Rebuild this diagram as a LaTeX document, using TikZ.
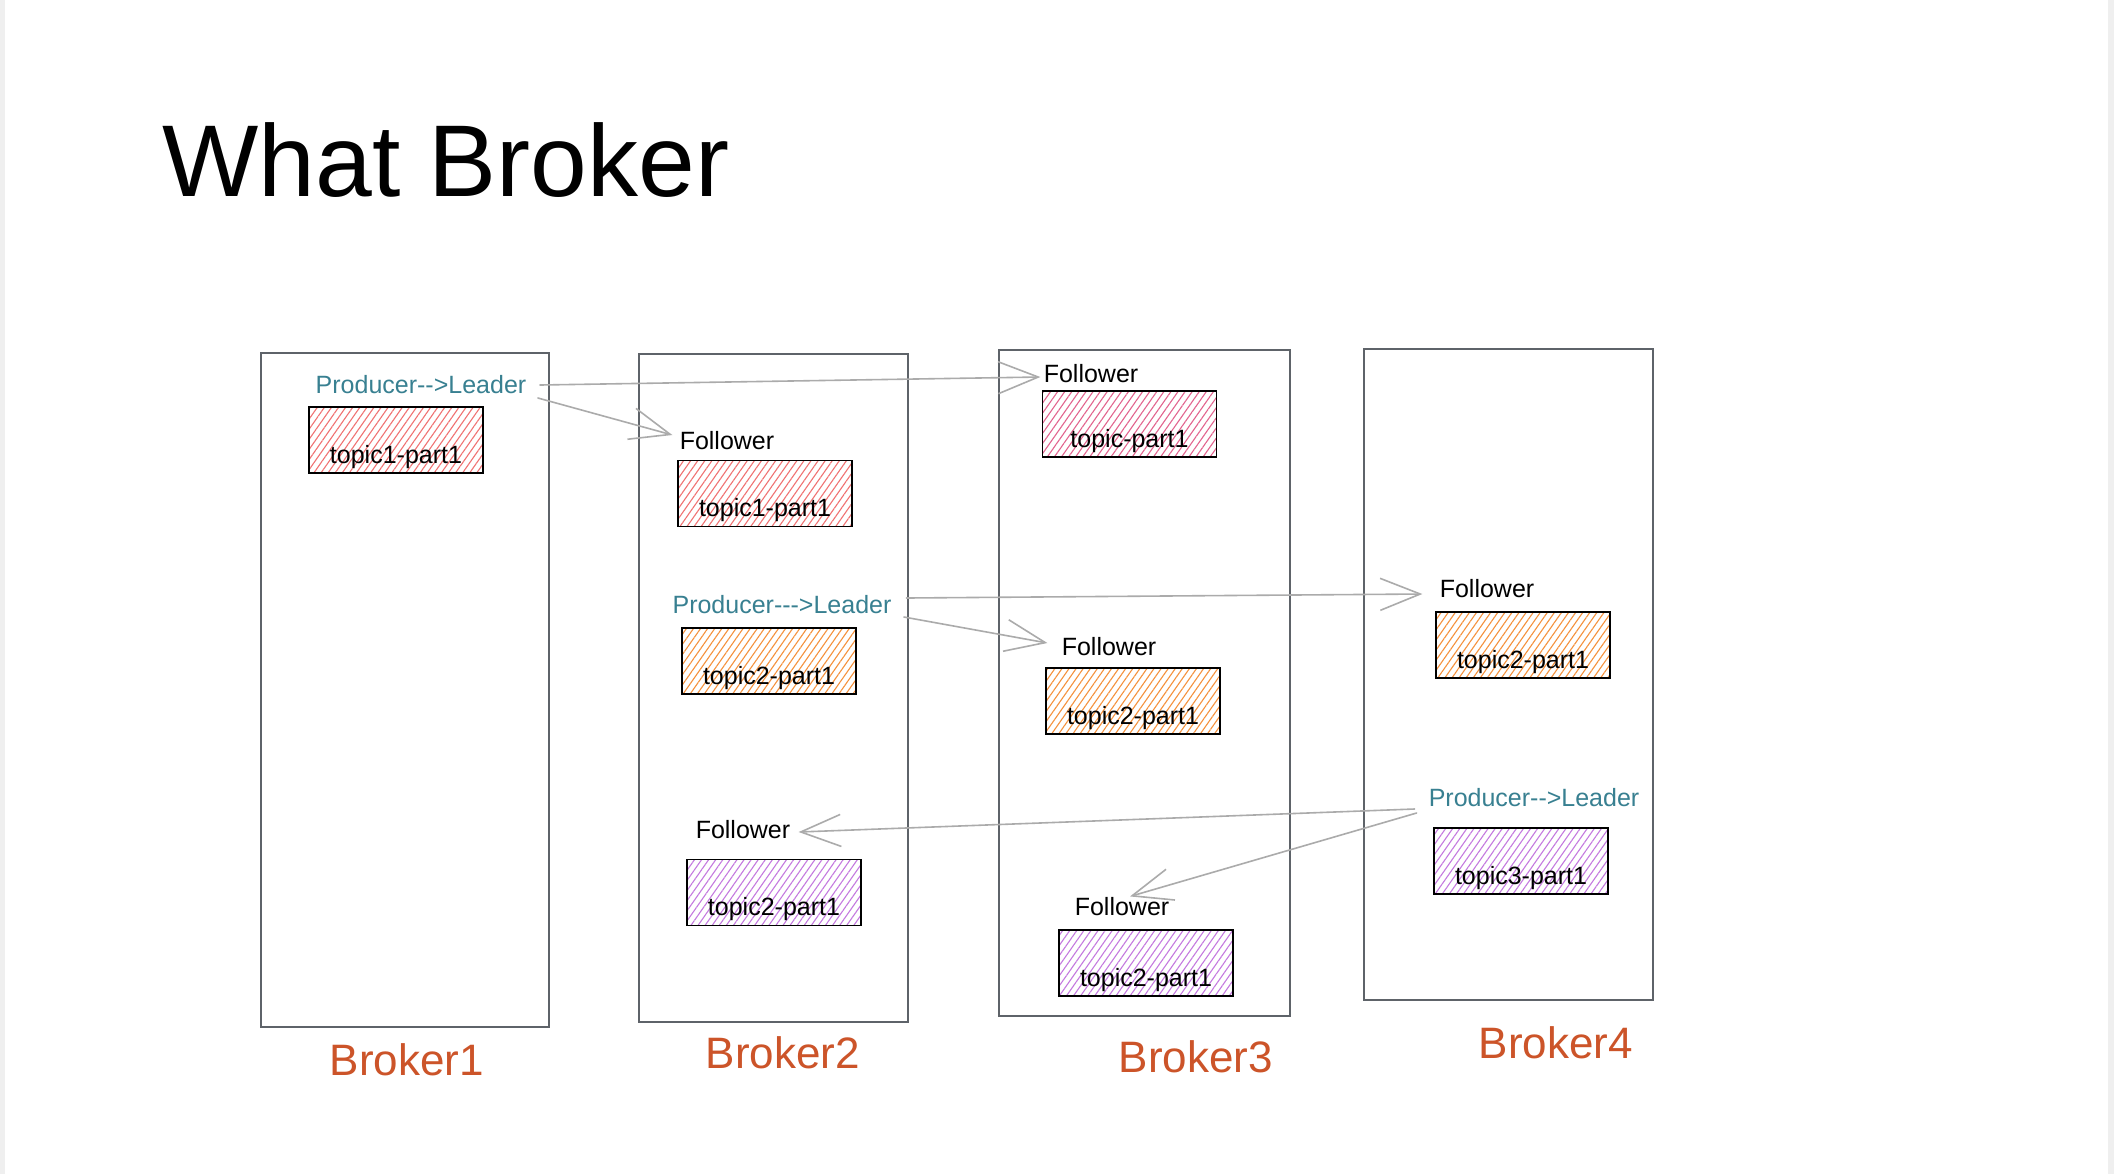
\documentclass[tikz,border=0pt]{standalone}
\usepackage{fontspec}
\setmainfont{Liberation Sans}[Ligatures=TeXOff]
\usetikzlibrary{patterns.meta,arrows.meta}
\definecolor{prodcol}{HTML}{388091}
\definecolor{brokercol}{HTML}{CC5429}
\definecolor{framegray}{HTML}{5E6369}
\definecolor{arrgray}{HTML}{ABABAB}
\definecolor{hred}{HTML}{F07272}
\definecolor{hpink}{HTML}{E2648E}
\definecolor{horange}{HTML}{F5913C}
\definecolor{hpurple}{HTML}{C47ADF}
\definecolor{edgegray}{HTML}{EFEFEF}
\begin{document}
\begin{tikzpicture}[x=0.5pt,y=-0.5pt,
  brokerbox/.style={draw=framegray, line width=1pt, inner sep=0pt},
  topicbox/.style={draw=black, line width=0.8pt, inner sep=0pt,
    minimum width=87pt, minimum height=33pt, text height=23pt, text depth=0pt,
    font=\fontsize{12.5}{14}\selectfont,
    pattern={Lines[angle=55,distance=2.9pt,line width=0.55pt]}},
  tred/.style={topicbox, pattern color=hred},
  tpink/.style={topicbox, pattern color=hpink},
  torange/.style={topicbox, pattern color=horange},
  tpurple/.style={topicbox, pattern color=hpurple},
  lbl/.style={inner sep=0pt, font=\fontsize{12.5}{14}\selectfont},
  follow/.style={lbl, minimum width=45.5pt},
  prod/.style={lbl, text=prodcol},
  brokername/.style={inner sep=0pt, text=brokercol, font=\fontsize{22}{24}\selectfont},
  arr/.style={draw=arrgray, line width=0.8pt, line cap=round,
    -{Straight Barb[length=20pt,width=16pt,line width=0.8pt]}}
]
\fill[edgegray] (0,0) rectangle (2114,1174);
\fill[white] (5,0) rectangle (2108,1174);
\useasboundingbox (0,0) rectangle (2114,1174);

% title
\node[anchor=base west, inner sep=0pt, font=\fontsize{51}{56}\selectfont] (title) at (162,196) {What Broker};

% brokers
\node[brokerbox, minimum width=144pt, minimum height=337pt] (B1) at (405,690) {};
\node[brokerbox, minimum width=134.5pt, minimum height=334pt] (B2) at (773.5,688) {};
\node[brokerbox, minimum width=145.5pt, minimum height=333pt] (B3) at (1144.5,683) {};
\node[brokerbox, minimum width=144.5pt, minimum height=325.5pt] (B4) at (1508.5,674.5) {};

\node[brokername] (n1) at (407,1060) {Broker1};
\node[brokername] (n2) at (783,1053) {Broker2};
\node[brokername] (n3) at (1196,1057) {Broker3};
\node[brokername] (n4) at (1556,1043) {Broker4};

% topic boxes
\node[tred] (b1t) at (396,440) {topic1-part1};
\node[tred] (b2t1) at (765,493.5) {topic1-part1};
\node[torange] (b2t2) at (769,661) {topic2-part1};
\node[tpurple] (b2t3) at (774,892.5) {topic2-part1};
\node[tpink] (b3t1) at (1129.5,424) {topic-part1};
\node[torange] (b3t2) at (1133,701) {topic2-part1};
\node[tpurple] (b3t3) at (1146,963) {topic2-part1};
\node[torange] (b4t1) at (1523,645) {topic2-part1};
\node[tpurple] (b4t2) at (1521,861) {topic3-part1};

% labels
\node[prod, minimum width=107.5pt] (b1prod) at (421,385) {Producer-{}->Leader};
\node[follow] (b2fol1) at (727,441) {Follower};
\node[prod, minimum width=112.5pt] (b2prod) at (782,605) {Producer-{}-{}->Leader};
\node[follow] (b2fol2) at (743,830) {Follower};
\node[follow] (b3fol1) at (1091,374) {Follower};
\node[follow] (b3fol2) at (1109,647) {Follower};
\node[follow] (b3fol3) at (1122,907) {Follower};
\node[follow] (b4fol) at (1487,589) {Follower};
\node[prod, minimum width=107pt] (b4prod) at (1534,798) {Producer-{}->Leader};

% arrows
\draw[arr] ([shift={(11,0)}]b1prod.east) -- ([shift={(-3,3)}]b3fol1.west);
\draw[arr] ([shift={(9,13)}]b1prod.east) -- ([shift={(-7,-6)}]b2fol1.west);
\draw[arr] ([shift={(11.5,-7)}]b2prod.east) -- ([shift={(-17,5)}]b4fol.west);
\draw[arr] ([shift={(9,12)}]b2prod.east) -- ([shift={(-14,-4)}]b3fol2.west);
\draw[arr] ([shift={(-12,11)}]b4prod.west) -- ([shift={(8,2)}]b2fol2.east);
\draw[arr] ([shift={(-10,15)}]b4prod.west) -- ([shift={(8,-1)}]b3fol3.north);
\end{tikzpicture}
\end{document}
